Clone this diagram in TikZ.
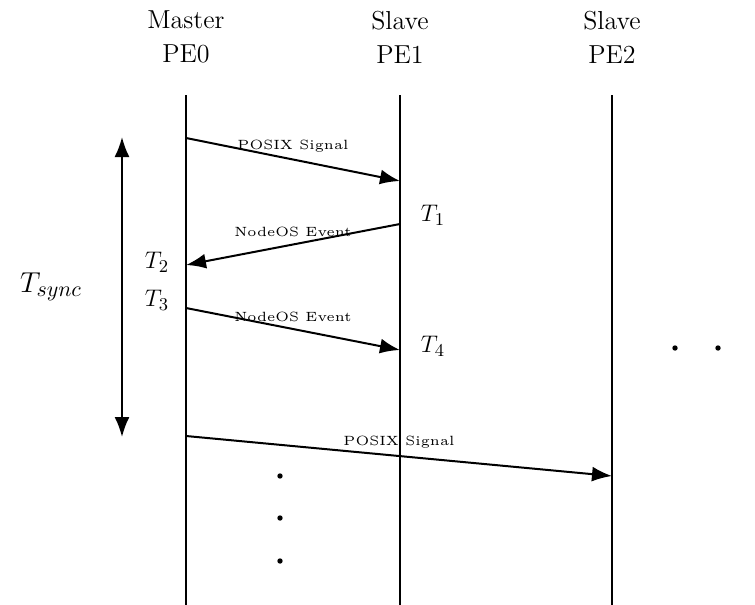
\documentclass[tikz,border=0pt]{standalone}
\usepackage{tikz}
\usetikzlibrary{arrows.meta}

\begin{document}
\begin{tikzpicture}[x=0.5pt, y=-0.5pt, line width=1pt,
    >={Latex[length=10pt,width=7.5pt]},
    every node/.style={font=\fontsize{13}{17}\selectfont},
    stamp/.style={font=\fontsize{12.5}{15}\selectfont},
    msg/.style={font=\fontsize{5}{6}\selectfont, scale=1.34, above=-1pt}]
  \useasboundingbox (0,0) rectangle (755,605);

  % 进程名称
  \node[align=center] (pe0) at (186,37) {Master\\PE0};
  \node[align=center] (pe1) at (400,37) {Slave\\PE1};
  \node[align=center] (pe2) at (612,37) {Slave\\PE2};

  % 时间线
  \coordinate (pe0top) at (186,95);  \coordinate (pe0bot) at (186,605);
  \coordinate (pe1top) at (400,95);  \coordinate (pe1bot) at (400,605);
  \coordinate (pe2top) at (612,95);  \coordinate (pe2bot) at (612,605);
  \draw (pe0top) -- (pe0bot);
  \draw (pe1top) -- (pe1bot);
  \draw (pe2top) -- (pe2bot);

  % 消息
  \coordinate (sig1a) at (186,138); \coordinate (sig1b) at (400,181);
  \coordinate (ev1a) at (400,224);  \coordinate (ev1b) at (186,265);
  \coordinate (ev2a) at (186,308);  \coordinate (ev2b) at (400,350);
  \coordinate (sig2a) at (186,436); \coordinate (sig2b) at (612,476);
  \draw[->] (sig1a) -- node[msg] (sig1lab) {POSIX Signal} (sig1b);
  \draw[->] (ev1a) -- node[msg] (ev1lab) {NodeOS Event} (ev1b);
  \draw[->] (ev2a) -- node[msg] (ev2lab) {NodeOS Event} (ev2b);
  \draw[->] (sig2a) -- node[msg] (sig2lab) {POSIX Signal} (sig2b);

  % 时间戳
  \node[stamp] (t1) at (433,215) {$T_1$};
  \node[stamp] (t2) at (157,262) {$T_2$};
  \node[stamp] (t3) at (157,300) {$T_3$};
  \node[stamp] (t4) at (433,346) {$T_4$};

  % 同步时间
  \coordinate (synctop) at (122,137);
  \coordinate (syncbot) at (122,437);
  \draw[<->] (synctop) -- (syncbot);
  \node[font=\fontsize{15}{18}\selectfont] (tsync) at (51,287) {$T_{sync}$};

  % 省略号
  \foreach \y in {476,518,561}
    \fill (280,\y) circle (2.7);
  \foreach \x in {675,718}
    \fill (\x,348) circle (2.7);
\end{tikzpicture}
\end{document}
